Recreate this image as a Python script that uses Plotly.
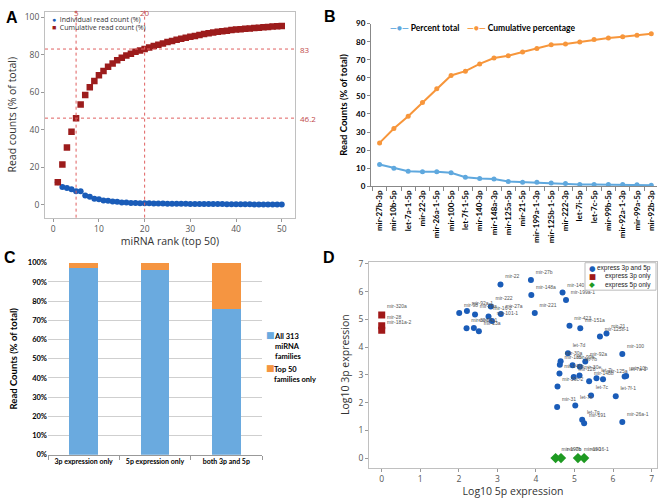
import plotly.graph_objects as go

# ---------------- data ----------------
# A: top-50 miRNA ranks
rank = list(range(1, 51))
individual_pct = [12.0, 9.5, 9.0, 8.3, 7.3, 7.2, 5.0, 4.3, 3.3, 3.0,
                  2.3, 2.2, 1.8, 1.7, 1.3, 1.2, 1.0, 1.0, 0.8, 0.8,
                  0.8, 0.75, 0.7, 0.7, 0.65, 0.6, 0.6, 0.6, 0.55, 0.5,
                  0.5, 0.5, 0.45, 0.45, 0.4, 0.4, 0.4, 0.35, 0.35, 0.3,
                  0.3, 0.3, 0.3, 0.25, 0.25, 0.25, 0.2, 0.2, 0.2, 0.2]
cumulative_pct = [12.0, 21.5, 30.5, 39.0, 46.2, 53.5, 58.5, 62.7, 66.0, 69.0,
                  71.3, 73.5, 75.3, 77.0, 78.3, 79.5, 80.5, 81.5, 82.2, 83.0,
                  83.8, 84.6, 85.3, 86.0, 86.7, 87.3, 87.9, 88.5, 89.0, 89.5,
                  90.0, 90.5, 91.0, 91.4, 91.8, 92.2, 92.5, 92.8, 93.1, 93.4,
                  93.6, 93.8, 94.0, 94.2, 94.4, 94.6, 94.8, 95.0, 95.2, 95.3]
ref_ranks = [5, 20]
ref_levels = [83, 46.2]

# B: top-20 miRNAs
mirnas_b = ["mir-27b-3p", "mir-10b-5p", "let-7a-1-5p", "mir-22-3p", "mir-26a-1-5p",
            "mir-100-5p", "let-7f-1-5p", "mir-140-3p", "mir-148a-3p", "mir-125a-5p",
            "mir-21-5p", "mir-199a-1-3p", "mir-125b-1-5p", "mir-222-3p", "let-7i-5p",
            "let-7c-5p", "mir-99b-5p", "mir-92a-1-3p", "mir-99a-5p", "mir-92b-3p"]
percent_total = [12, 10, 8.3, 8, 8, 7.5, 5, 4.3, 4, 2.7,
                 2.3, 2.2, 1.8, 1.5, 1, 1, 1, 1, 0.9, 0.6]
cumulative_percentage = [24, 32, 38.7, 46.3, 54, 61.3, 63.7, 67.7, 71, 72.2,
                         74.3, 76.3, 78.3, 78.7, 79.8, 81.2, 82, 82.7, 83.6, 84.4]

# C: stacked shares
groups_c = ["3p expression only", "5p expression only", "both 3p and 5p"]
all_313 = [97, 96, 76]
top_50 = [3, 4, 24]

# D: log10 expression of arms
both_names = ["mir-27b", "mir-22", "mir-148a", "mir-140", "mir-199a-1", "mir-222", "mir-221",
              "mir-27a", "mir-98", "mir-92a-1", "mir-29a", "mir-16-2", "mir-101-1", "mir-30d",
              "mir-24-1", "mir-23a", "mir-423", "mir-151a", "mir-125b-1", "mir-21", "let-7d",
              "mir-100", "mir-30a", "mir-185", "mir-99b", "mir-92a", "let-7b", "mir-10b",
              "let-7a-1", "mir-146b", "mir-30e", "mir-128", "let-7i", "mir-125a", "mir-148b",
              "mir-30c-2", "let-7c", "let-7f-1", "mir-31", "let-7e", "let-7g", "mir-191",
              "mir-26a-1"]
both_5p = [3.87, 3.08, 3.88, 4.69, 4.78, 2.83, 3.97,
           3.09, 2.01, 2.21, 2.42, 2.77, 2.86, 2.20,
           2.39, 2.52, 4.87, 5.15, 5.66, 5.83, 4.83,
           6.24, 4.64, 4.62, 4.95, 5.28, 5.14, 6.34,
           6.30, 4.61, 5.13, 4.98, 5.57, 5.74, 5.38,
           4.56, 5.43, 6.07, 4.55, 5.02, 5.20, 5.25,
           6.24]
both_3p = [6.42, 6.26, 5.88, 5.97, 5.70, 5.47, 5.23,
           5.20, 5.23, 5.30, 5.18, 5.11, 4.94, 4.68,
           4.69, 4.57, 4.77, 4.68, 4.38, 4.49, 3.78,
           3.75, 3.49, 3.37, 3.35, 3.48, 3.29, 2.96,
           2.94, 3.05, 2.98, 2.92, 2.88, 2.84, 2.77,
           2.58, 2.26, 2.23, 1.84, 1.90, 1.38, 1.26,
           1.30]
only3p_names = ["mir-320a", "mir-28", "mir-181a-2"]
only3p_5p = [0, 0, 0]
only3p_3p = [5.16, 4.77, 4.61]
only5p_names = ["mir-190b", "mir-7b", "mir-190", "mir-16-1"]
only5p_5p = [4.51, 4.65, 5.09, 5.25]
only5p_3p = [0, 0, 0, 0]

# ---------------- figure ----------------
W, H = 660, 498


def dom_x(a, b):
    return [a / W, b / W]


def dom_y(top, bottom):
    return [1 - bottom / H, 1 - top / H]


def px(x):
    return x / W


def py(y):
    return 1 - y / H


fig = go.Figure()

BLUE_A = "#1a5cb8"
RED_A = "#9c1c1c"
GREEN_D = "#1e9a22"
BLUE_B = "#5fa8de"
ORANGE_B = "#f7963b"
BLUE_C = "#6aaadf"
ORANGE_C = "#f59541"
REF = "#e06060"
GRAY = "#555555"

# ----- A -----
fig.add_trace(go.Scatter(x=rank, y=individual_pct, mode="markers", name="Individual read count (%)",
                         marker=dict(symbol="circle", size=6, color=BLUE_A),
                         xaxis="x", yaxis="y"))
fig.add_trace(go.Scatter(x=rank, y=cumulative_pct, mode="markers", name="Cumulative read count (%)",
                         marker=dict(symbol="square", size=6.5, color=RED_A),
                         xaxis="x", yaxis="y"))

# ----- B -----
fig.add_trace(go.Scatter(x=mirnas_b, y=percent_total, mode="lines+markers", name="Percent total",
                         line=dict(color=BLUE_B, width=2), marker=dict(size=5, color=BLUE_B),
                         xaxis="x2", yaxis="y2"))
fig.add_trace(go.Scatter(x=mirnas_b, y=cumulative_percentage, mode="lines+markers",
                         name="Cumulative percentage",
                         line=dict(color=ORANGE_B, width=2), marker=dict(size=5, color=ORANGE_B),
                         xaxis="x2", yaxis="y2"))

# ----- C -----
fig.add_trace(go.Bar(x=groups_c, y=all_313, name="All 313 miRNA families",
                     marker=dict(color=BLUE_C, line=dict(width=0)), width=0.4,
                     xaxis="x3", yaxis="y3"))
fig.add_trace(go.Bar(x=groups_c, y=top_50, name="Top 50 families only",
                     marker=dict(color=ORANGE_C, line=dict(width=0)), width=0.4,
                     xaxis="x3", yaxis="y3"))

# ----- D -----
lbl_font = dict(size=5, color="#555555", family="Liberation Sans")
fig.add_trace(go.Scatter(x=both_5p, y=both_3p, text=both_names, mode="markers+text",
                         textposition="top right", textfont=lbl_font, name="express 3p and 5p",
                         marker=dict(symbol="circle", size=6, color=BLUE_A),
                         xaxis="x4", yaxis="y4"))
fig.add_trace(go.Scatter(x=only3p_5p, y=only3p_3p, text=only3p_names, mode="markers+text",
                         textposition="top right", textfont=lbl_font, name="express 3p only",
                         marker=dict(symbol="square", size=7, color="#a01818"),
                         xaxis="x4", yaxis="y4"))
fig.add_trace(go.Scatter(x=only5p_5p, y=only5p_3p, text=only5p_names, mode="markers+text",
                         textposition="top right", textfont=lbl_font, name="express 5p only",
                         marker=dict(symbol="diamond", size=8, color=GREEN_D),
                         xaxis="x4", yaxis="y4"))

tick_a = dict(size=8.5, color=GRAY, family="Open Sans")
title_a = dict(size=10.5, color="#333333", family="Open Sans")
tick_b = dict(size=8, color="#000000", family="Lato", weight="bold")
title_b = dict(size=9.5, color="#000000", family="Lato", weight="bold")

fig.update_layout(
    width=W, height=H,
    margin=dict(l=0, r=0, t=0, b=0),
    paper_bgcolor="white", plot_bgcolor="white",
    barmode="stack",
    showlegend=False,
    # A axes
    xaxis=dict(domain=dom_x(45, 295), anchor="y", range=[-1.8, 52.9],
               tickvals=[0, 10, 20, 30, 40, 50], ticks="outside", ticklen=3, tickcolor="#999",
               showgrid=False, zeroline=False, showline=True, linecolor="#c0c0c0", mirror=True,
               tickfont=tick_a, title=dict(text="miRNA rank (top 50)", font=title_a, standoff=4)),
    yaxis=dict(domain=dom_y(7, 217), anchor="x", range=[-6.8, 102.8],
               tickvals=[0, 20, 40, 60, 80, 100], ticks="outside", ticklen=3, tickcolor="#999",
               showgrid=False, zeroline=False, showline=True, linecolor="#c0c0c0", mirror=True,
               tickfont=tick_a, title=dict(text="Read counts (% of total)", font=title_a, standoff=6)),
    # B axes
    xaxis2=dict(domain=dom_x(371, 657), anchor="y2", type="category", range=[-0.6, 19.4],
                tickangle=-90, ticks="outside", tickson="boundaries", ticklen=4, tickcolor="#888",
                showgrid=False, showline=True, linecolor="#888", tickfont=tick_b),
    yaxis2=dict(domain=dom_y(19, 185), anchor="x2", range=[0, 90], dtick=10,
                ticks="outside", ticklen=3, tickcolor="#888",
                showgrid=False, zeroline=False, showline=True, linecolor="#888", tickfont=tick_b,
                title=dict(text="Read Counts (% of total)", font=title_b, standoff=6)),
    # C axes
    xaxis3=dict(domain=dom_x(48, 262), anchor="y3", type="category", tickangle=0,
                ticks="outside", tickson="boundaries", ticklen=4, tickcolor="#999",
                showgrid=False, showline=True, linecolor="#999",
                tickfont=dict(size=7, color="#000", family="Lato", weight="bold")),
    yaxis3=dict(domain=dom_y(263, 459), anchor="x3", range=[0, 100], dtick=10, ticksuffix="%",
                showgrid=True, gridcolor="#cfcfcf", gridwidth=1, zeroline=False,
                showline=False, tickfont=dict(size=7.5, color="#000", family="Lato", weight="bold"),
                title=dict(text="Read Counts (% of total)", font=title_b, standoff=8)),
    # D axes
    xaxis4=dict(domain=dom_x(369, 657), anchor="y4", range=[-0.33, 7.14], dtick=1,
                ticks="outside", ticklen=3, tickcolor="#999",
                showgrid=False, zeroline=False, showline=True, linecolor="#c0c0c0", mirror=True,
                tickfont=tick_a, title=dict(text="Log10 5p expression", font=title_a, standoff=4)),
    yaxis4=dict(domain=dom_y(262, 472), anchor="x4", range=[-0.34, 7.08], dtick=1,
                ticks="outside", ticklen=3, tickcolor="#999",
                showgrid=False, zeroline=False, showline=True, linecolor="#c0c0c0", mirror=True,
                tickfont=tick_a, title=dict(text="Log10 3p expression", font=title_a, standoff=6)),
)


def note(x, y, text, size, color="#333", family="Open Sans", xanchor="left", yanchor="middle",
         weight="normal", align="left"):
    fig.add_annotation(x=px(x), y=py(y), xref="paper", yref="paper", text=text, showarrow=False,
                       xanchor=xanchor, yanchor=yanchor, align=align,
                       font=dict(size=size, color=color, family=family, weight=weight))


# reference lines in A
for r in ref_ranks:
    fig.add_shape(type="line", xref="x", yref="paper", x0=r, x1=r, y0=py(217), y1=py(3),
                  line=dict(color=REF, width=1, dash="dot"))
    fig.add_annotation(x=r, xref="x", y=py(0), yref="paper", text=str(r), showarrow=False,
                       yanchor="top", font=dict(size=8, color="#c04848", family="Open Sans"))
for lv in ref_levels:
    fig.add_shape(type="line", xref="paper", yref="y", x0=px(45), x1=px(297), y0=lv, y1=lv,
                  line=dict(color=REF, width=1, dash="dot"))
    fig.add_annotation(x=px(298), xref="paper", y=lv, yref="y", text=str(lv), showarrow=False,
                       xanchor="left", font=dict(size=8, color="#c04848", family="Open Sans"))

# legend A
note(50, 15, f"<span style='color:{BLUE_A}'>●</span>  Individual read count (%)", 7)
note(50, 23, f"<span style='color:{RED_A}'>■</span>  Cumulative read count (%)", 7)

# legend B
note(388, 23, f"<span style='color:{BLUE_B}'>—●—</span> Percent total", 8.5,
     color="#000", family="Lato", weight="bold")
note(465, 23, f"<span style='color:{ORANGE_B}'>—●—</span> Cumulative percentage", 8.5,
     color="#000", family="Lato", weight="bold")

# legend C
note(264, 337, f"<span style='color:{BLUE_C}'>■</span>", 9, family="DejaVu Sans")
note(272, 332, "All 313<br>miRNA<br>families", 7.5, color="#000", family="Lato",
     weight="bold", yanchor="top")
note(264, 370, f"<span style='color:{ORANGE_C}'>■</span>", 9, family="DejaVu Sans")
note(272, 365, "Top 50<br>families only", 7.5, color="#000", family="Lato",
     weight="bold", yanchor="top")

# legend D
fig.add_shape(type="rect", xref="paper", yref="paper", x0=px(585), x1=px(656), y0=py(291), y1=py(263),
              line=dict(color="#bbbbbb", width=1), fillcolor="white", layer="above")
for i, (sym, col, lab) in enumerate([("●", BLUE_A, "express 3p and 5p"),
                                     ("■", "#a01818", "express 3p only"),
                                     ("◆", GREEN_D, "express 5p only")]):
    yy = 268.5 + 8.5 * i
    note(587, yy, f"<span style='color:{col}'>{sym}</span>", 7.5, family="DejaVu Sans")
    note(653, yy, lab, 6.5, color="#222", family="Liberation Sans", xanchor="right")

# panel letters
for letter, lx, ly in [("A", 12, 13), ("B", 330, 12), ("C", 10, 258), ("D", 329, 258)]:
    note(lx, ly, letter, 16, color="#000", family="Liberation Sans", xanchor="center",
         weight="bold")

fig.write_html("out.html", config={"displayModeBar": False},
               post_script="document.body.style.margin='0px';")
